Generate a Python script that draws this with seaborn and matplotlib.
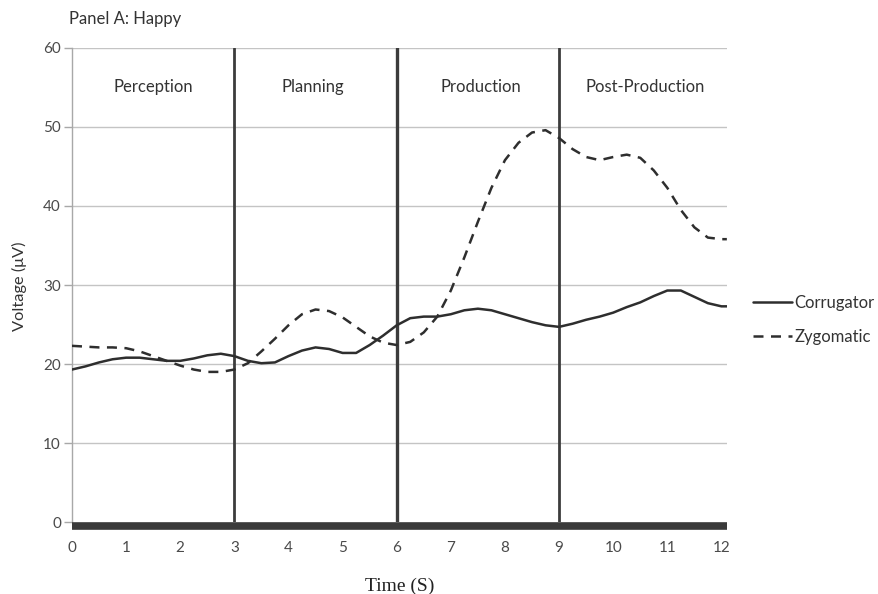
import numpy as np
import pandas as pd
import matplotlib
matplotlib.use("Agg")
import matplotlib.pyplot as plt
import seaborn as sns

time_s = [0, 0.25, 0.5, 0.75, 1.0, 1.25, 1.5, 1.75, 2.0, 2.25, 2.5, 2.75,
          3.0, 3.25, 3.5, 3.75, 4.0, 4.25, 4.5, 4.75, 5.0, 5.25, 5.5, 5.75,
          6.0, 6.25, 6.5, 6.75, 7.0, 7.25, 7.5, 7.75, 8.0, 8.25, 8.5, 8.75,
          9.0, 9.25, 9.5, 9.75, 10.0, 10.25, 10.5, 10.75, 11.0, 11.25, 11.5, 11.75,
          12.0, 12.1]

corrugator = [19.3, 19.7, 20.2, 20.6, 20.8, 20.8, 20.6, 20.4, 20.4, 20.7, 21.1, 21.3,
              21.0, 20.4, 20.1, 20.2, 21.0, 21.7, 22.1, 21.9, 21.4, 21.4, 22.4, 23.6,
              24.9, 25.8, 26.0, 26.0, 26.3, 26.8, 27.0, 26.8, 26.3, 25.8, 25.3, 24.9,
              24.7, 25.1, 25.6, 26.0, 26.5, 27.2, 27.8, 28.6, 29.3, 29.3, 28.5, 27.7,
              27.3, 27.3]

zygomatic = [22.3, 22.2, 22.1, 22.1, 22.0, 21.6, 21.0, 20.4, 19.8, 19.3, 19.0, 19.0,
             19.3, 20.1, 21.6, 23.2, 24.9, 26.3, 26.9, 26.7, 25.9, 24.7, 23.5, 22.7,
             22.4, 22.8, 24.0, 26.0, 29.3, 33.5, 38.0, 42.3, 45.8, 48.0, 49.3, 49.6,
             48.6, 47.2, 46.2, 45.8, 46.2, 46.5, 46.1, 44.5, 42.3, 39.5, 37.3, 36.0,
             35.8, 35.8]

phase_names = ["Perception", "Planning", "Production", "Post-Production"]
phase_centers = [1.5, 4.45, 7.55, 10.6]
phase_bounds = [3, 6, 9]
y_ticks = [0, 10, 20, 30, 40, 50, 60]
x_ticks = list(range(0, 13))

sns.set_theme(style="white")
plt.rcParams['font.family'] = ['Lato', 'DejaVu Sans']

fig = plt.figure(figsize=(8.79, 5.94), dpi=100)
ax = fig.add_axes([0.0819, 0.1212, 0.745, 0.798])

txt_color = "#4a4a4a"
line_color = "#2e2e2e"

# grid lines
for yv in y_ticks[1:]:
    ax.axhline(yv, color="#c4c4c4", lw=1.0, zorder=0)

# phase separators
for xb, lw in zip(phase_bounds, [2.0, 2.4, 2.0]):
    ax.axvline(xb, color="#3c3c3c", lw=lw, zorder=1)

df = pd.DataFrame({"time": time_s, "Corrugator": corrugator, "Zygomatic": zygomatic})
sns.lineplot(data=df, x="time", y="Corrugator", ax=ax, color=line_color, lw=1.8,
             label="Corrugator", zorder=3)
sns.lineplot(data=df, x="time", y="Zygomatic", ax=ax, color=line_color, lw=1.8,
             linestyle=(0, (4, 3)), label="Zygomatic", zorder=3)

for name, cx in zip(phase_names, phase_centers):
    ax.text(cx, 55, name, ha="center", va="center", fontsize=12, color="#333333")

ax.set_xlim(0, 12.1)
ax.set_ylim(0, 60)
ax.set_xticks(x_ticks)
ax.set_yticks(y_ticks)
ax.tick_params(axis="y", length=6, width=1, color="#a8a8a8", labelcolor=txt_color,
               labelsize=11, pad=2, left=True)
ax.tick_params(axis="x", length=0, labelsize=11, labelcolor=txt_color, pad=11)

for s in ["top", "right"]:
    ax.spines[s].set_visible(False)
ax.spines["left"].set_color("#a8a8a8")
ax.spines["left"].set_linewidth(1.0)
ax.spines["bottom"].set_color("#3a3a3a")
ax.spines["bottom"].set_linewidth(5.5)
ax.spines["bottom"].set_position(("outward", 3))
ax.spines["bottom"].set_capstyle("butt")

ax.set_xlabel("Time (S)", family=["Liberation Serif"], fontsize=14, color="#222222",
              labelpad=16)
ax.set_ylabel("Voltage (μV)", fontsize=11.8, color="#333333")
ax.yaxis.set_label_coords((27 - 72) / (0.745 * 879), (1 - 286 / 594 - 0.1212) / 0.798)

fig.text(69 / 879, 1 - 19 / 594, "Panel A: Happy", fontsize=12, color="#333333",
         ha="left", va="center")

leg = ax.legend(loc="center left", bbox_to_anchor=(0.857, 1 - 320 / 594),
                bbox_transform=fig.transFigure, frameon=False, fontsize=12,
                handlelength=2.3, handletextpad=0.15, labelspacing=1.1,
                borderpad=0, borderaxespad=0)
for t in leg.get_texts():
    t.set_color("#333333")

fig.savefig("out.png", dpi=100)
